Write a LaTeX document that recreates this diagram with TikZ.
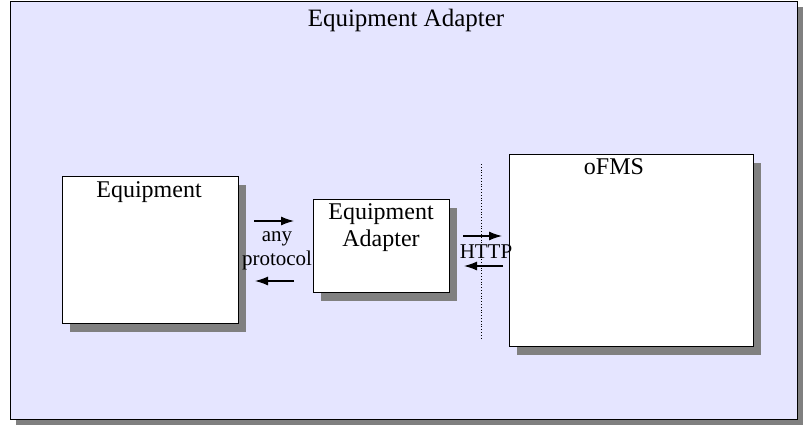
\documentclass[tikz,border=0pt]{standalone}
\usepackage{fontspec}
\setmainfont{Liberation Serif}
\usetikzlibrary{shadows,arrows.meta}
\definecolor{bgfill}{RGB}{229,229,255}
\definecolor{shadowgray}{RGB}{128,128,128}
\begin{document}
\begin{tikzpicture}[x=1pt,y=-1pt,
  frame/.style={draw=black, line width=0.8pt, anchor=north west, inner sep=0pt, outer sep=0pt},
  outerbox/.style={frame, fill=bgfill, drop shadow={shadow xshift=6pt, shadow yshift=-6pt, fill=shadowgray, opacity=1}},
  whitebox/.style={frame, fill=white, drop shadow={shadow xshift=8pt, shadow yshift=-9pt, fill=shadowgray, opacity=1}},
  bigtxt/.style={font=\fontsize{24}{26}\selectfont, inner sep=0pt, align=center},
  titletxt/.style={font=\fontsize{25}{27}\selectfont, inner sep=0pt},
  smalltxt/.style={font=\fontsize{21}{23}\selectfont, inner sep=0pt, align=center},
  arr/.style={-{Latex[length=13pt,width=9pt]}, line width=1.2pt}]
\useasboundingbox (0,0) rectangle (803,425);
\node[outerbox, minimum width=787pt, minimum height=418pt] (outer) at (10,1) {};
\node[titletxt] (title) at (406,20) {Equipment Adapter};
\node[whitebox, minimum width=176pt, minimum height=147pt] (equip) at (62,176) {};
\node[bigtxt] (equiptxt) at (149,192) {Equipment};
\node[whitebox, minimum width=136pt, minimum height=93pt] (adapter) at (313,199) {};
\node[bigtxt, anchor=north] (adaptertxt) at (381,203) {Equipment\\[1pt]Adapter};
\node[whitebox, minimum width=244pt, minimum height=192pt] (ofms) at (509,154) {};
\node[bigtxt] (ofmstxt) at (614,167) {oFMS};
\coordinate (d1) at (481,164);
\coordinate (d2) at (481,338);
\draw[dotted, line width=0.8pt] (d1) -- (d2);
\node[smalltxt] (proto) at (277,251) {any\\[1pt]protocol};
\coordinate (a1) at (254,221); \coordinate (a2) at (294,221);
\coordinate (a3) at (294,281); \coordinate (a4) at (255,281);
\draw[arr] (a1) -- (a2);
\draw[arr] (a3) -- (a4);
\node[smalltxt] (http) at (486,252) {HTTP};
\coordinate (h1) at (463,236); \coordinate (h2) at (502,236);
\coordinate (h3) at (503,266); \coordinate (h4) at (464,266);
\draw[arr] (h1) -- (h2);
\draw[arr] (h3) -- (h4);
\end{tikzpicture}
\end{document}
